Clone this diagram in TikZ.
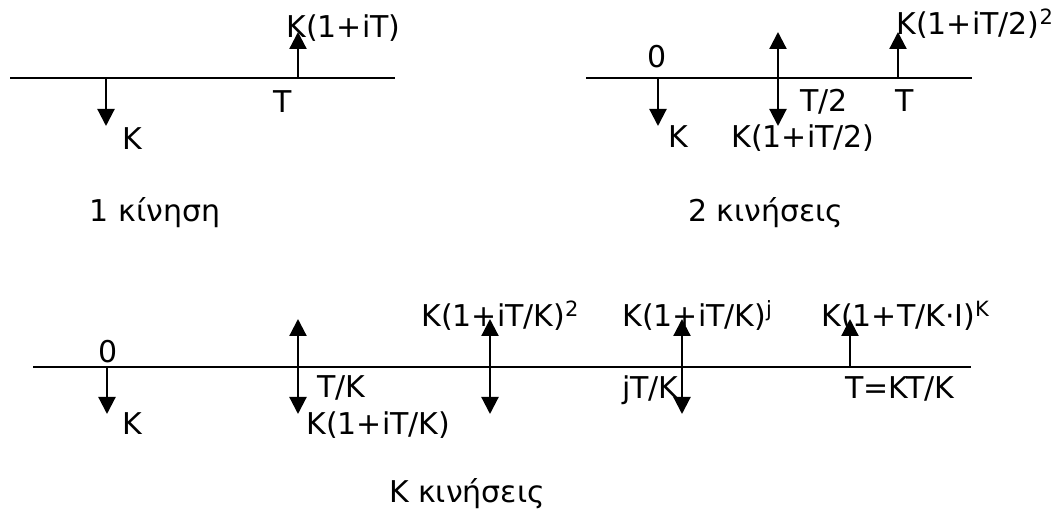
\documentclass[tikz,border=0pt]{standalone}
\usepackage{fontspec}
\setmainfont{DejaVu Sans}
\usetikzlibrary{arrows.meta}

\begin{document}
\begin{tikzpicture}[x=0.5pt,y=-0.5pt,
  timeline/.style={line width=1.2pt},
  flow/.style={line width=1.1pt,-{Triangle[width=8.5pt,length=8.5pt]}},
  both/.style={line width=1.1pt,{Triangle[width=8.5pt,length=8.5pt]}-{Triangle[width=8.5pt,length=8.5pt]}},
  lbl/.style={inner sep=0pt,font=\fontsize{15}{18}\selectfont}]
\useasboundingbox (0,0) rectangle (1062,512);

% 1 kinisi
\coordinate (s1) at (10,78);
\coordinate (e1) at (395,78);
\draw[timeline] (s1) -- (e1);
\coordinate (p0) at (106,78);
\coordinate (p0d) at (106,126);
\coordinate (pT) at (298,78);
\coordinate (pTu) at (298,32);
\draw[flow] (p0) -- (p0d);
\draw[flow] (pT) -- (pTu);
\node[lbl,anchor=base west] (kA) at (122,150) {K};
\node[lbl,anchor=base] (tA) at (283,113) {T};
\node[lbl,anchor=base west] (kAT) at (286,38) {K(1+iT)};
\node[lbl,anchor=base] (cap1) at (155,222) {1 κίνηση};

% 2 kiniseis
\coordinate (s2) at (586,78);
\coordinate (e2) at (972,78);
\draw[timeline] (s2) -- (e2);
\coordinate (q0) at (658,78);
\coordinate (q0d) at (658,126);
\coordinate (qhu) at (778,32);
\coordinate (qhd) at (778,126);
\coordinate (qT) at (898,78);
\coordinate (qTu) at (898,32);
\draw[flow] (q0) -- (q0d);
\draw[both] (qhu) -- (qhd);
\draw[flow] (qT) -- (qTu);
\node[lbl,anchor=base] (zB) at (657,68) {0};
\node[lbl,anchor=base west] (kB) at (668,148) {K};
\node[lbl,anchor=base west] (kBh) at (731,148) {K(1+iT/2)};
\node[lbl,anchor=base west] (tBh) at (800,112) {T/2};
\node[lbl,anchor=base] (tB) at (905,112) {T};
\node[lbl,anchor=base west] (kBT) at (896,35) {K(1+iT/2)\textsuperscript{2}};
\node[lbl,anchor=base] (cap2) at (766,222) {2 κινήσεις};

% K kiniseis
\coordinate (s3) at (33,367);
\coordinate (e3) at (971,367);
\draw[timeline] (s3) -- (e3);
\coordinate (r0) at (107,367);
\coordinate (r0d) at (107,414);
\draw[flow] (r0) -- (r0d);
\foreach \x/\n in {298/a,490/b,682/c}
  \draw[both] (\x,319) coordinate (r\n u) -- (\x,414) coordinate (r\n d);
\coordinate (rK) at (850,367);
\coordinate (rKu) at (850,319);
\draw[flow] (rK) -- (rKu);
\node[lbl,anchor=base] (zC) at (108,363) {0};
\node[lbl,anchor=base west] (kC) at (122,435) {K};
\node[lbl,anchor=base west] (tC1) at (317,398) {T/K};
\node[lbl,anchor=base west] (kC1) at (306,435) {K(1+iT/K)};
\node[lbl,anchor=base west] (kC2) at (421,327) {K(1+iT/K)\textsuperscript{2}};
\node[lbl,anchor=base west] (kCj) at (622,327) {K(1+iT/K)\textsuperscript{j}};
\node[lbl,anchor=base east] (tCj) at (679,399) {jT/K};
\node[lbl,anchor=base west] (kCK) at (821,327) {K(1+T/K·I)\textsuperscript{K}};
\node[lbl,anchor=base west] (tCK) at (845,399) {T=KT/K};
\node[lbl,anchor=base] (cap3) at (467,503) {K κινήσεις};
\end{tikzpicture}
\end{document}
